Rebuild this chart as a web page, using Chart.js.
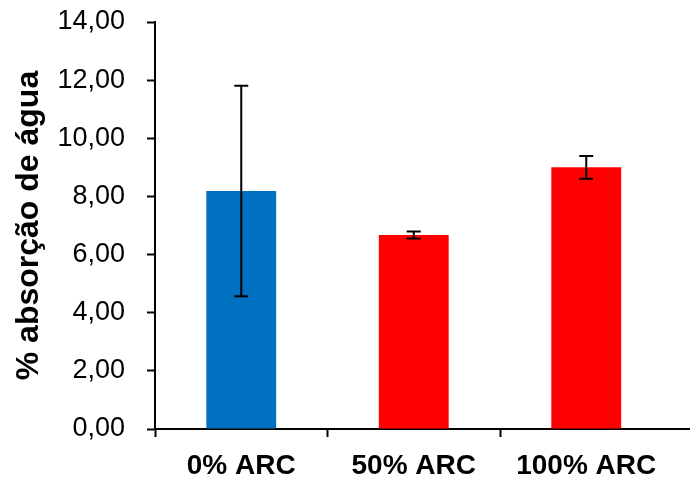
<!DOCTYPE html>
<html>
<head>
<meta charset="utf-8">
<script src="https://cdn.jsdelivr.net/npm/chart.js@4.4.1/dist/chart.umd.min.js"></script>
<style>
  html, body { margin: 0; padding: 0; background: #fff; }
  canvas { display: block; }
</style>
</head>
<body>
<canvas id="c" width="690" height="479"></canvas>
<script>
// Water absorption per formulation (mean and standard deviation)
const categories = ['0% ARC', '50% ARC', '100% ARC'];
const absorption = [8.19, 6.67, 9.00];
const deviation = [3.62, 0.12, 0.39];
const barColors = ['#0070C0', '#FF0000', '#FF0000'];
const yTicks = [0, 2, 4, 6, 8, 10, 12, 14];

const FONT = "'Liberation Sans', Arial, sans-serif";

// Draws symmetric error bars on top of each bar
const errorBars = {
  id: 'errorBars',
  afterDatasetsDraw(chart) {
    const ctx = chart.ctx;
    const yScale = chart.scales.y;
    const meta = chart.getDatasetMeta(0);
    ctx.save();
    ctx.strokeStyle = '#000';
    ctx.lineWidth = 2;
    meta.data.forEach((bar, i) => {
      const top = yScale.getPixelForValue(absorption[i] + deviation[i]);
      const bottom = yScale.getPixelForValue(absorption[i] - deviation[i]);
      const half = 7;
      ctx.beginPath();
      ctx.moveTo(bar.x, top);
      ctx.lineTo(bar.x, bottom);
      ctx.moveTo(bar.x - half, top);
      ctx.lineTo(bar.x + half, top);
      ctx.moveTo(bar.x - half, bottom);
      ctx.lineTo(bar.x + half, bottom);
      ctx.stroke();
    });
    ctx.restore();
  }
};

// Continues the category axis line to the right edge of the canvas
const axisExtension = {
  id: 'axisExtension',
  afterDraw(chart) {
    const ctx = chart.ctx;
    const a = chart.chartArea;
    const y = Math.round(a.bottom - 1) + 1;
    ctx.save();
    ctx.strokeStyle = '#000';
    ctx.lineWidth = 2;
    ctx.beginPath();
    ctx.moveTo(a.right - 2, y);
    ctx.lineTo(chart.width, y);
    ctx.stroke();
    ctx.restore();
  }
};

new Chart(document.getElementById('c'), {
  type: 'bar',
  data: {
    labels: categories,
    datasets: [{
      data: absorption,
      backgroundColor: barColors,
      borderWidth: 0,
      barPercentage: 0.405,
      categoryPercentage: 1.0
    }]
  },
  options: {
    responsive: false,
    animation: false,
    devicePixelRatio: 1,
    layout: { padding: { top: 22, right: 17.5, left: 0, bottom: 0 } },
    plugins: {
      legend: { display: false },
      tooltip: { enabled: false }
    },
    scales: {
      x: {
        type: 'category',
        offset: true,
        afterFit(scale) {
          scale.height = 50;
          scale.paddingLeft = 0;
          scale.paddingRight = 0;
        },
        grid: {
          offset: true,
          drawOnChartArea: false,
          drawTicks: true,
          tickLength: 8,
          tickWidth: 2,
          // no tick mark at the right end of the axis
          tickColor: (c) => (c.type === 'tick' && c.index < categories.length ? '#000' : 'rgba(0,0,0,0)')
        },
        border: { display: true, color: '#000', width: 2 },
        ticks: {
          color: '#000',
          padding: 12,
          maxRotation: 0,
          font: { family: FONT, size: 28, weight: 'bold' }
        }
      },
      y: {
        min: 0,
        max: 14,
        afterFit(scale) {
          scale.width = 155;
          scale.paddingTop = 0;
          scale.paddingBottom = 0;
        },
        afterBuildTicks(scale) { scale.ticks = yTicks.map(v => ({ value: v })); },
        grid: {
          drawOnChartArea: false,
          drawTicks: true,
          tickLength: 8,
          tickWidth: 2,
          tickColor: '#000'
        },
        border: { display: true, color: '#000', width: 2 },
        ticks: {
          color: '#000',
          padding: 22,
          font: { family: FONT, size: 27 },
          callback: (v) => Number(v).toFixed(2).replace('.', ',')
        },
        title: {
          display: true,
          text: '% absorção de água',
          color: '#000',
          padding: { top: 10, bottom: 0 },
          font: { family: FONT, size: 32, weight: 'bold' }
        }
      }
    }
  },
  plugins: [errorBars, axisExtension]
});
</script>
</body>
</html>
